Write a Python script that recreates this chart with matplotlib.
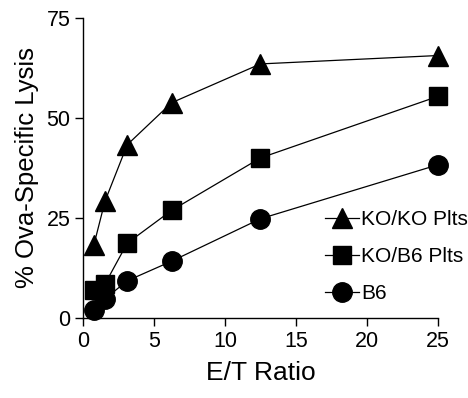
import matplotlib
matplotlib.use("Agg")
import matplotlib.pyplot as plt

et_ratio = [0.78, 1.56, 3.125, 6.25, 12.5, 25]
ko_ko = [18.3, 29.2, 43.3, 53.8, 63.5, 65.6]
ko_b6 = [7.0, 8.5, 18.7, 26.9, 40.0, 55.4]
b6 = [2.1, 4.8, 9.3, 14.2, 24.8, 38.3]
labels = ["KO/KO Plts", "KO/B6 Plts", "B6"]

plt.rcParams['font.family'] = ['Liberation Sans', 'DejaVu Sans']

fig = plt.figure(figsize=(4.68, 3.98), dpi=100)
ax = fig.add_axes([0.177, 0.201, 0.759, 0.754])

kw = dict(color='black', lw=0.9, markersize=14, clip_on=False)
ax.plot(et_ratio, ko_ko, marker='^', label=labels[0], **kw)
ax.plot(et_ratio, ko_b6, marker='s', markersize=13, color='black', lw=0.9, clip_on=False, label=labels[1])
ax.plot(et_ratio, b6, marker='o', label=labels[2], **kw)

ax.set_xlim(0, 25)
ax.set_ylim(0, 75)
ax.set_xticks([0, 5, 10, 15, 20, 25])
ax.set_yticks([0, 25, 50, 75])
ax.spines['top'].set_visible(False)
ax.spines['right'].set_visible(False)
for s in ['left', 'bottom']:
    ax.spines[s].set_linewidth(1.0)
ax.tick_params(direction='out', length=6, width=1.0, labelsize=15.5, pad=3)
ax.set_xlabel("E/T Ratio", fontsize=19, labelpad=7)
ax.set_ylabel("% Ova-Specific Lysis", fontsize=18.5, labelpad=5)

ax.legend(loc='lower right', bbox_to_anchor=(1.108, 0.022), frameon=False,
          fontsize=15, handlelength=1.65, handletextpad=0.1,
          labelspacing=0.86, borderaxespad=0)

fig.savefig("out.png", dpi=100)
